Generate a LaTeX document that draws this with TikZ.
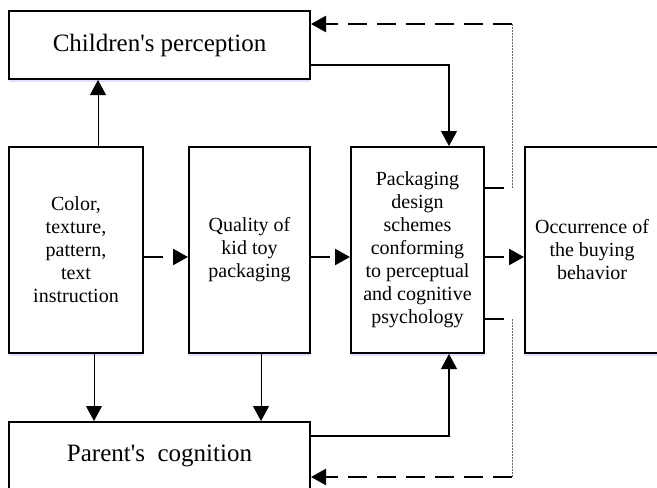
\documentclass[tikz,border=0pt]{standalone}
\usepackage{fontspec}
\setmainfont{Liberation Serif}
\usetikzlibrary{arrows.meta,shadows}

\begin{document}
\begin{tikzpicture}[x=1pt,y=-1pt,>={Triangle[length=15pt,width=16pt]}]
	\useasboundingbox (0,0) rectangle (657,488);
	\begin{scope}[every node/.style={rectangle,draw,line width=2pt,fill=white,align=center,inner sep=0pt,
			drop shadow={shadow xshift=0pt,shadow yshift=-2.5pt,fill=blue!12,opacity=1}}]
		\node [minimum width=301pt,minimum height=68pt,font=\fontsize{25}{29}\selectfont] (child) at (159.5,45) {Children\textquotesingle s perception};
		\node [minimum width=134pt,minimum height=206pt,font=\fontsize{20}{23}\selectfont] (color) at (76,250) {Color,\\texture,\\pattern,\\text\\instruction};
		\node [minimum width=121pt,minimum height=206pt,font=\fontsize{20}{23}\selectfont] (quality) at (249.5,250) {Quality of\\kid toy\\packaging};
		\node [minimum width=133pt,minimum height=206pt,font=\fontsize{20}{23}\selectfont] (pack) at (417.5,250) {Packaging\\design\\schemes\\conforming\\to perceptual\\and cognitive\\psychology};
		\node [minimum width=134pt,minimum height=206pt,font=\fontsize{20}{23}\selectfont] (occur) at (592,250) {Occurrence of\\the buying\\behavior};
		\node [minimum width=301pt,minimum height=68pt,font=\fontsize{25}{29}\selectfont] (parent) at (159.5,456) {Parent\textquotesingle s\ \ cognition};
	\end{scope}
	
	\coordinate (cu) at ([xshift=22pt]color.north);
	\coordinate (cd) at ([xshift=18pt]color.south);
	\coordinate (qd) at ([xshift=11.5pt]quality.south);
	\coordinate (fbA) at (512,188);
	\coordinate (fbB) at (512,24);
	\coordinate (fbC) at (512,319);
	\coordinate (fbD) at (512,477);
	
	\begin{scope}[every edge/.style={draw=black,line width=0.8pt}]
		\path [->] (cu) edge (cu |- child.south);
		\path [->] (cd) edge (cd |- parent.north);
		\path [->] (qd) edge (qd |- parent.north);
	\end{scope}
	\draw [->,line width=1.2pt] ([yshift=-20pt]child.east) -| ([xshift=31.5pt]pack.north);
	\draw [->,line width=1.2pt] ([yshift=20pt]parent.east) -| ([xshift=31.5pt]pack.south);
	
	\begin{scope}[every edge/.style={draw=black,line width=2.4pt,dash pattern=on 19pt off 10pt}]
		\path [->] ([yshift=-7pt]color.east) edge ([yshift=-7pt]quality.west);
		\path [->] ([yshift=-7pt]quality.east) edge ([yshift=-7pt]pack.west);
		\path [->] ([yshift=-7pt]pack.east) edge ([yshift=-7pt]occur.west);
		\path (fbA -| pack.east) edge (fbA);
		\path (fbC -| pack.east) edge (fbC);
		\path [->] (fbB) edge (fbB -| child.east);
		\path [->] (fbD) edge (fbD -| parent.east);
	\end{scope}
	%feedback verticals
	\draw [gray!80!black,line width=0.8pt,dash pattern=on 2pt off 1pt] (fbA) -- (fbB);
	\draw [gray!80!black,line width=0.8pt,dash pattern=on 2pt off 1pt] (fbC) -- (fbD);
\end{tikzpicture}
\end{document}
